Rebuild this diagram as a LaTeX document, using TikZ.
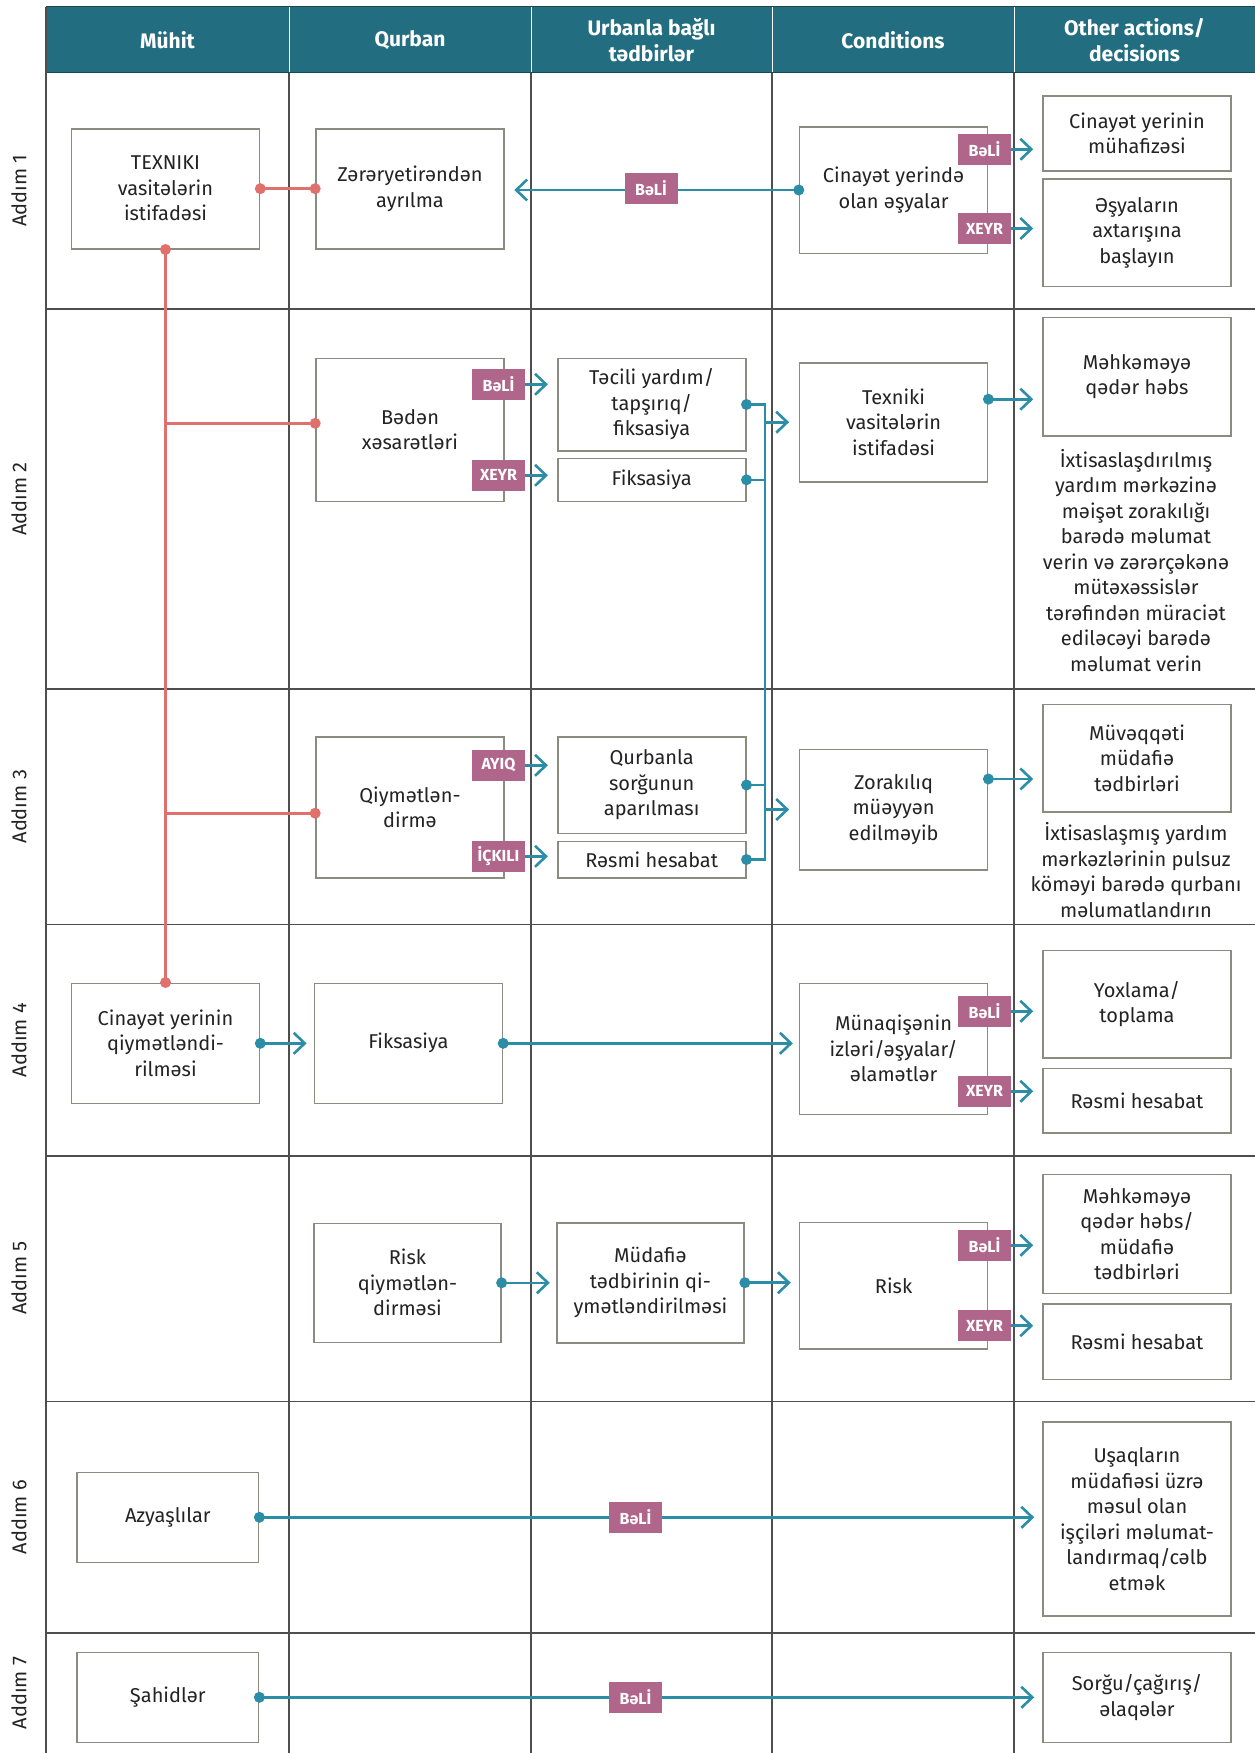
\documentclass[tikz,border=0pt]{standalone}
\usepackage{fontspec}
\setmainfont{Fira Sans}
\usetikzlibrary{arrows.meta}
\definecolor{hdr}{RGB}{35,109,128}
\definecolor{hdrline}{RGB}{28,72,84}
\definecolor{tagc}{RGB}{176,102,138}
\definecolor{tealc}{RGB}{44,142,166}
\definecolor{redc}{RGB}{224,112,108}
\definecolor{boxc}{RGB}{138,140,128}
\definecolor{gridc}{RGB}{78,78,78}
\definecolor{txt}{RGB}{35,35,35}
\newcommand{\tdot}[1]{\fill[tealc] (#1) circle (5.5pt);}
\newcommand{\rdot}[1]{\fill[redc] (#1) circle (5.5pt);}
\begin{document}
\begin{tikzpicture}[x=1pt,y=-1pt,
  box/.style={draw=boxc, line width=1.6pt, fill=white, align=center, inner sep=2pt, text=txt,
    font=\fontsize{20}{25.5}\selectfont},
  para/.style={align=center, inner sep=0pt, text=txt, font=\fontsize{20}{25.5}\selectfont},
  hd/.style={align=center, text=white, inner sep=0pt, font=\fontsize{21}{25.7}\selectfont\bfseries},
  tagbox/.style={fill=tagc, text=white, inner sep=0pt, minimum width=53pt, minimum height=31pt,
    font=\fontsize{16}{18}\selectfont\bfseries},
  rowlab/.style={rotate=90, inner sep=0pt, text=txt, font=\fontsize{20}{22}\selectfont},
  gridline/.style={draw=gridc, line width=1.3pt},
  tl/.style={draw=tealc, line width=2.6pt},
  ta/.style={draw=tealc, line width=2.6pt, -{Straight Barb[length=11pt,width=21pt]}},
  rl/.style={draw=redc, line width=2.6pt}]
\useasboundingbox (0,0) rectangle (1255,1753);
\fill[white] (0,0) rectangle (1255,1753);
% header
\fill[hdr] (46,6.7) rectangle (1255,72.7);
\foreach \x in {289,531,772,1014} \draw[white, line width=1pt] (\x,6.7) -- (\x,72.7);
\draw[hdrline, line width=1.6pt] (46,6.7) -- (1255,6.7);
\draw[hdrline, line width=1.6pt] (46,72.7) -- (1255,72.7);
\node[hd] (H1) at (167.5,40) {Mühit};
\node[hd] (H2) at (410,40) {Qurban};
\node[hd] (H3) at (651.5,40) {Urbanla bağlı\\tədbirlər};
\node[hd] (H4) at (893,40) {Conditions};
\node[hd] (H5) at (1134.5,40) {Other actions/\\decisions};
% grid
\draw[gridline] (46,6.7) -- (46,1753);
\foreach \x in {289,531,772,1014} \draw[gridline] (\x,72.7) -- (\x,1753);
\foreach \y in {309,689,924.5,1156,1401.5,1633} \draw[gridline] (46,\y) -- (1255,\y);
% row labels
\node[rowlab] (L1) at (19,190.8) {Addım 1};
\node[rowlab] (L2) at (19,499) {Addım 2};
\node[rowlab] (L3) at (19,806.7) {Addım 3};
\node[rowlab] (L4) at (19,1040) {Addım 4};
\node[rowlab] (L5) at (19,1278) {Addım 5};
\node[rowlab] (L6) at (19,1517) {Addım 6};
\node[rowlab] (L7) at (19,1693) {Addım 7};
% boxes
\node[box, minimum width=188pt, minimum height=120pt] (B1) at (165.5,188.7) {TEXNIKI\\vasitələrin\\istifadəsi};
\node[box, minimum width=188pt, minimum height=120pt] (B2) at (410,188.7) {Zərəryetirəndən\\ayrılma};
\node[box, minimum width=188pt, minimum height=126.6pt] (B3) at (893.6,190) {Cinayət yerində\\olan əşyalar};
\node[box, minimum width=188pt, minimum height=75pt] (B4) at (1137,133.5) {Cinayət yerinin\\mühafizəsi};
\node[box, minimum width=188pt, minimum height=107.6pt] (B5) at (1137,232.5) {Əşyaların\\axtarışına\\başlayın};
\node[box, minimum width=188pt, minimum height=143pt] (B6) at (410,429.8) {Bədən\\xəsarətləri};
\node[box, minimum width=188pt, minimum height=92.4pt] (B7) at (651.7,404.5) {Təcili yardım/\\tapşırıq/\\fiksasiya};
\node[box, minimum width=188pt, minimum height=43pt] (B8) at (651.7,479.8) {Fiksasiya};
\node[box, minimum width=188pt, minimum height=119pt] (B9) at (893.6,422.2) {Texniki\\vasitələrin\\istifadəsi};
\node[box, minimum width=188pt, minimum height=118.7pt] (B10) at (1137,376.7) {Məhkəməyə\\qədər həbs};
\node[para] (P1) at (1136,560.5) {İxtisaslaşdırılmış\\yardım mərkəzinə\\məişət zorakılığı\\barədə məlumat\\verin və zərərçəkənə\\mütəxəssislər\\tərəfindən müraciət\\ediləcəyi barədə\\məlumat verin};
\node[box, minimum width=188pt, minimum height=141pt] (B11) at (410,807.2) {Qiymətlən-\\dirmə};
\node[box, minimum width=188pt, minimum height=96.6pt] (B12) at (651.7,785) {Qurbanla\\sorğunun\\aparılması};
\node[box, minimum width=188pt, minimum height=36.4pt] (B13) at (651.7,859.5) {Rəsmi hesabat};
\node[box, minimum width=188pt, minimum height=120.4pt] (B14) at (893.6,809.5) {Zorakılıq\\müəyyən\\edilməyib};
\node[box, minimum width=188pt, minimum height=107.4pt] (B15) at (1137,758) {Müvəqqəti\\müdafiə\\tədbirləri};
\node[para] (P2) at (1136,870) {İxtisaslaşmış yardım\\mərkəzlərinin pulsuz\\köməyi barədə qurbanı\\məlumatlandırın};
\node[box, minimum width=188pt, minimum height=120pt] (B16) at (165.5,1043.3) {Cinayət yerinin\\qiymətləndi-\\rilməsi};
\node[box, minimum width=188pt, minimum height=120pt] (B17) at (408.4,1043.3) {Fiksasiya};
\node[box, minimum width=188pt, minimum height=131pt] (B18) at (893.6,1048.8) {Münaqişənin\\izləri/əşyalar/\\əlamətlər};
\node[box, minimum width=188pt, minimum height=107.4pt] (B19) at (1137,1004) {Yoxlama/\\toplama};
\node[box, minimum width=188pt, minimum height=64.3pt] (B20) at (1137,1100.8) {Rəsmi hesabat};
\node[box, minimum width=186.6pt, minimum height=119pt] (B21) at (407.5,1282.8) {Risk\\qiymətlən-\\dirməsi};
\node[box, minimum width=187.3pt, minimum height=120pt] (B22) at (650.4,1282.7) {Müdafiə\\tədbirinin qi-\\ymətləndirilməsi};
\node[box, minimum width=188pt, minimum height=126.3pt] (B23) at (893.6,1285.8) {Risk};
\node[box, minimum width=188pt, minimum height=118.8pt] (B24) at (1137,1234) {Məhkəməyə\\qədər həbs/\\müdafiə\\tədbirləri};
\node[box, minimum width=188pt, minimum height=75.3pt] (B25) at (1137,1341.7) {Rəsmi hesabat};
\node[box, minimum width=181.6pt, minimum height=90pt] (B26) at (167.8,1517.3) {Azyaşlılar};
\node[box, minimum width=188pt, minimum height=194pt] (B27) at (1137,1519) {Uşaqların\\müdafiəsi üzrə\\məsul olan\\işçiləri məlumat-\\landırmaq/cəlb\\etmək};
\node[box, minimum width=181.6pt, minimum height=90pt] (B28) at (167.8,1697.3) {Şahidlər};
\node[box, minimum width=188pt, minimum height=90pt] (B29) at (1137,1697.3) {Sorğu/çağırış/\\əlaqələr};
% red connectors
\draw[rl] (B1.east) -- (B2.west);
\draw[rl] (B1.south) -- (B16.north);
\draw[rl] ([yshift=6.5pt]B6.west -| B1.south) -- ([yshift=6.5pt]B6.west);
\draw[rl] ([yshift=-6pt]B11.west -| B1.south) -- ([yshift=-6pt]B11.west);
\rdot{B1.east}\rdot{B2.west}\rdot{B1.south}\rdot{B16.north}
\rdot{[yshift=6.5pt]B6.west}\rdot{[yshift=-6pt]B11.west}
% teal connectors row 1
\draw[ta, shorten >=9.5pt] (B3.west) -- (B3.west -| B2.east);
\tdot{B3.west}
\node[tagbox] (T1) at (651,188) {BəLİ};
\node[tagbox] (T2) at (984.5,149.3) {BəLİ};
\node[tagbox] (T3) at (984.5,228.5) {XEYR};
\draw[ta, shorten >=9pt] (T2.east) -- (T2.east -| B4.west);
\draw[ta, shorten >=9pt] (T3.east) -- (T3.east -| B5.west);
% row 2
\node[tagbox] (T4) at (498.5,384.3) {BəLİ};
\node[tagbox] (T5) at (498.5,475.3) {XEYR};
\draw[ta, shorten >=9pt] (T4.east) -- (T4.east -| B7.west);
\draw[ta, shorten >=9pt] (T5.east) -- (T5.east -| B8.west);
\coordinate (bus) at (765,600);
\draw[tl] (B7.east) -- (B7.east -| bus) -- (B13.east -| bus) -- (B13.east);
\draw[tl] (B8.east) -- (B8.east -| bus);
\draw[tl] (B12.east) -- (B12.east -| bus);
\draw[ta, shorten >=9.7pt] (B9.west -| bus) -- (B9.west);
\draw[ta, shorten >=9.7pt] (B14.west -| bus) -- (B14.west);
\tdot{B7.east}\tdot{B8.east}\tdot{B12.east}\tdot{B13.east}
\draw[ta, shorten >=9pt] ([yshift=23pt]B9.east) -- ([yshift=23pt]B9.east -| B10.west);
\tdot{[yshift=23pt]B9.east}
% row 3
\node[tagbox] (T6) at (498.5,765.3) {AYIQ};
\node[tagbox] (T7) at (498.5,856.3) {İÇKILI};
\draw[ta, shorten >=9pt] (T6.east) -- (T6.east -| B12.west);
\draw[ta, shorten >=9pt] (T7.east) -- (T7.east -| B13.west);
\draw[ta, shorten >=9pt] ([yshift=30.5pt]B14.east) -- ([yshift=30.5pt]B14.east -| B15.west);
\tdot{[yshift=30.5pt]B14.east}
% row 4
\draw[ta, shorten >=7pt] (B16.east) -- (B17.west);
\draw[ta, shorten >=6pt] (B17.east) -- (B17.east -| B18.west);
\tdot{B16.east}\tdot{B17.east}
\node[tagbox] (T8) at (984.5,1011.3) {BəLİ};
\node[tagbox] (T9) at (984.5,1091.3) {XEYR};
\draw[ta, shorten >=9pt] (T8.east) -- (T8.east -| B19.west);
\draw[ta, shorten >=9pt] (T9.east) -- (T9.east -| B20.west);
% row 5
\draw[ta, shorten >=6.2pt] (B21.east) -- (B21.east -| B22.west);
\draw[ta, shorten >=8pt] (B22.east) -- (B22.east -| B23.west);
\tdot{B21.east}\tdot{B22.east}
\node[tagbox] (T10) at (984.5,1245.3) {BəLİ};
\node[tagbox] (T11) at (984.5,1325.7) {XEYR};
\draw[ta, shorten >=9pt] (T10.east) -- (T10.east -| B24.west);
\draw[ta, shorten >=9pt] (T11.east) -- (T11.east -| B25.west);
% rows 6 and 7
\draw[ta, shorten >=8pt] (B26.east) -- (B26.east -| B27.west);
\tdot{B26.east}
\node[tagbox] (T12) at (635.5,1517.3) {BəLİ};
\draw[ta, shorten >=8pt] (B28.east) -- (B28.east -| B29.west);
\tdot{B28.east}
\node[tagbox] (T13) at (635.5,1697.3) {BəLİ};
\end{tikzpicture}
\end{document}
